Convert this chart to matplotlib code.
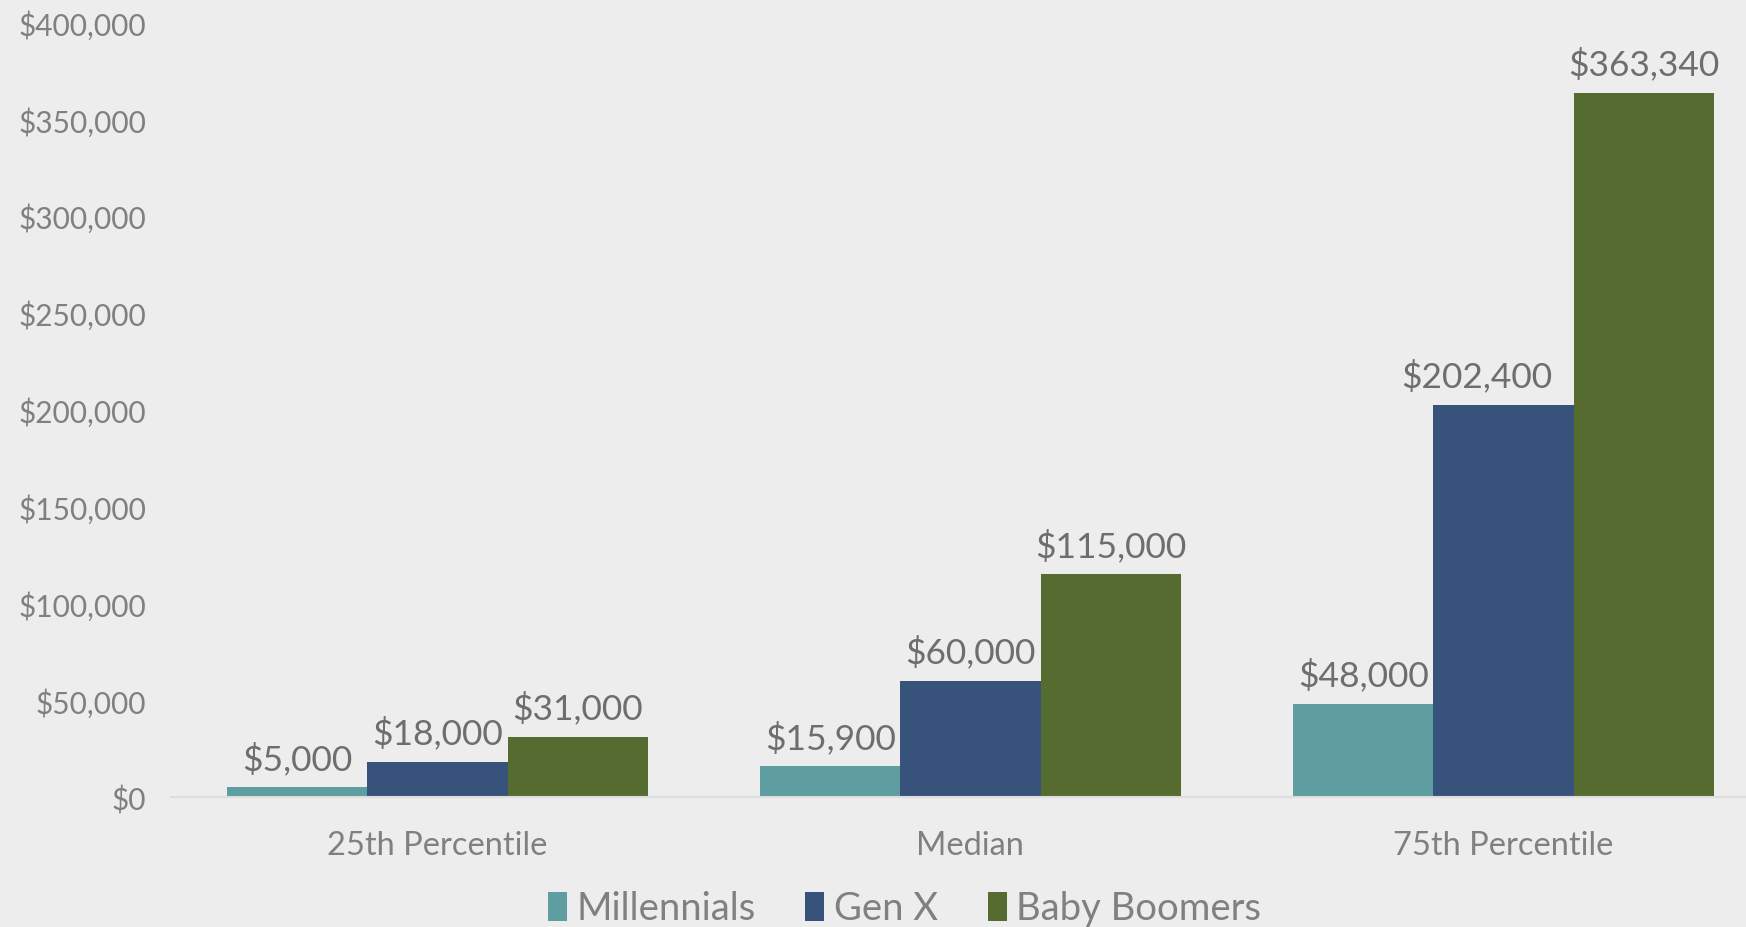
import matplotlib.pyplot as plt
import numpy as np
from matplotlib.ticker import FuncFormatter

# Home equity by generation at different points of the distribution
categories = ["25th Percentile", "Median", "75th Percentile"]
series_names = ["Millennials", "Gen X", "Baby Boomers"]
millennials = [5000, 15900, 48000]
gen_x = [18000, 60000, 202400]
boomers = [31000, 115000, 363340]
y_ticks = [0, 50000, 100000, 150000, 200000, 250000, 300000, 350000, 400000]

colors = ["#5F9EA0", "#37527B", "#556B2F"]
bg = "#EDEDED"
tick_color = "#808080"
label_color = "#6E6E6E"

# labels that would run into the neighbouring bar get pushed left (points)
nudge = {(1, 2): -19}

plt.rcParams['font.family'] = ['Lato', 'DejaVu Sans']

fig = plt.figure(figsize=(17.46, 9.28), dpi=100, facecolor=bg)
ax = fig.add_axes([0.0979, 0.140, 0.9158, 0.835])
ax.set_facecolor(bg)

x = np.arange(len(categories))
width = 0.263
for i, (name, vals) in enumerate(zip(series_names, [millennials, gen_x, boomers])):
    pos = x + (i - 1) * width
    bars = ax.bar(pos, vals, width, color=colors[i], label=name, zorder=2)
    for j, (rect, v) in enumerate(zip(bars, vals)):
        ax.annotate("${:,.0f}".format(v),
                    (rect.get_x() + rect.get_width() / 2, v),
                    xytext=(nudge.get((i, j), 0), 9), textcoords="offset points",
                    ha="center", va="bottom", fontsize=25.5, color=label_color)

ax.set_xlim(-0.5, 2.5)
ax.set_ylim(0, 400000)
ax.set_yticks(y_ticks)
ax.yaxis.set_major_formatter(FuncFormatter(lambda v, p: "${:,.0f}".format(v)))
ax.set_xticks(x)
ax.set_xticklabels(categories)

for s in ["top", "right", "left"]:
    ax.spines[s].set_visible(False)
ax.spines["bottom"].set_color("#DDDDDD")
ax.spines["bottom"].set_linewidth(1.5)
ax.tick_params(axis="y", length=0, pad=18, labelsize=21.5, labelcolor=tick_color)
ax.tick_params(axis="x", length=0, pad=24, labelsize=23.5, labelcolor=tick_color)

fig.legend(loc="center", bbox_to_anchor=(0.518, 0.02), ncol=3, frameon=False,
           fontsize=27.5, labelcolor=tick_color, handlelength=0.5,
           handleheight=0.8, handletextpad=0.25, columnspacing=1.3)

fig.savefig("out.png", dpi=100, facecolor=bg)
